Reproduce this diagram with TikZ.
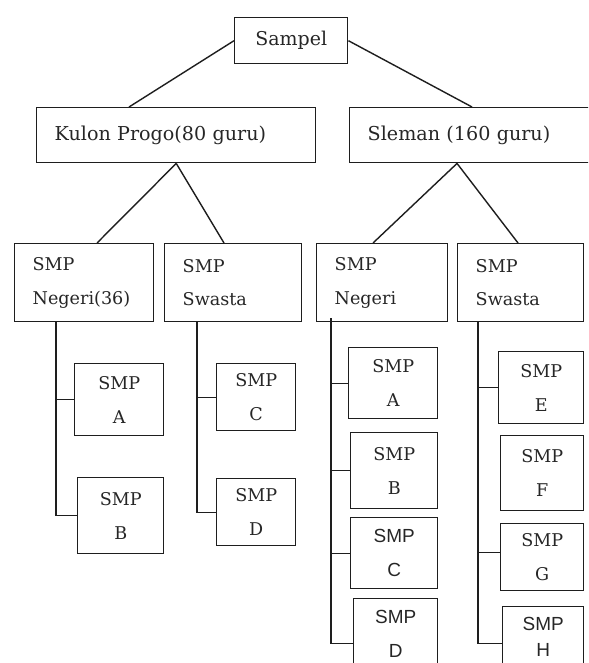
\documentclass[tikz,border=0pt]{standalone}
\usepackage{fontspec}
\setmainfont{DejaVu Serif}
\newfontfamily\sansfont{Liberation Sans}
\definecolor{sampleLine}{HTML}{1E1E1E}
\definecolor{sampleText}{HTML}{262626}
\usepackage{tikz}
\usetikzlibrary{positioning}
\tikzset{
    top node/.style={rectangle, draw=sampleLine, line width=1pt, text=sampleText, minimum width=2.825cm, minimum height=1.15cm, align=center, anchor=north west, font=\fontsize{13.5}{24}\selectfont},
    region node/.style={rectangle, draw=sampleLine, line width=1pt, text=sampleText, minimum height=1.375cm, inner xsep=0.45cm, align=left, anchor=north west, font=\fontsize{13.6}{24}\selectfont},
    school node/.style={rectangle, draw=sampleLine, line width=1pt, text=sampleText, minimum height=1.95cm, inner xsep=0.45cm, align=left, anchor=north west, font=\fontsize{12.5}{24}\selectfont},
    leaf node/.style={rectangle, draw=sampleLine, line width=1pt, text=sampleText, inner sep=0pt, align=center, anchor=north west, font=\fontsize{12.5}{24}\selectfont},
    sans leaf/.style={leaf node, font=\sansfont\fontsize{13.5}{24}\selectfont},
    link style/.style={draw=sampleLine, line width=1pt},
}

\begin{document}
\begin{tikzpicture}[x=0.025cm, y=-0.025cm]
    \useasboundingbox (0,0) rectangle (588,663);
    \clip (0,0) rectangle (588,663);
    % top levels
    \node[top node] (sampel) at (234,17) {Sampel};
    \node[region node, text width=6.075cm] (kulon) at (36,107) {Kulon Progo(80 guru)};
    \node[region node, text width=5.375cm] (sleman) at (349,107) {Sleman (160 guru)};
    \node[school node, text width=2.575cm] (kpneg) at (14,243) {SMP\\Negeri(36)};
    \node[school node, text width=2.525cm] (kpsw) at (164,243) {SMP\\Swasta};
    \node[school node, text width=2.375cm] (slneg) at (316,243) {SMP\\Negeri};
    \node[school node, text width=2.25cm] (slsw) at (457,243) {SMP\\Swasta};
    % schools
    \node[leaf node, minimum width=2.225cm, minimum height=1.8cm] (kpa) at (74,363) {SMP\\A};
    \node[leaf node, minimum width=2.15cm, minimum height=1.9cm] (kpb) at (77,477) {SMP\\B};
    \node[leaf node, minimum width=1.975cm, minimum height=1.675cm] (kpc) at (216,363) {SMP\\C};
    \node[leaf node, minimum width=1.975cm, minimum height=1.675cm] (kpd) at (216,478) {SMP\\D};
    \node[leaf node, minimum width=2.225cm, minimum height=1.775cm] (sla) at (348,347) {SMP\\A};
    \node[leaf node, minimum width=2.175cm, minimum height=1.9cm] (slb) at (350,432) {SMP\\B};
    \node[sans leaf, minimum width=2.175cm, minimum height=1.775cm] (slc) at (350,517) {SMP\\C};
    \node[sans leaf, minimum width=2.1cm, minimum height=1.75cm] (sld) at (353,598) {SMP\\D};
    \node[leaf node, minimum width=2.125cm, minimum height=1.8cm] (sle) at (498,351) {SMP\\E};
    \node[leaf node, minimum width=2.075cm, minimum height=1.875cm] (slf) at (500,435) {SMP\\F};
    \node[leaf node, minimum width=2.075cm, minimum height=1.675cm] (slg) at (500,523) {SMP\\G};
    \node[sans leaf, font=\sansfont\fontsize{13.5}{18}\selectfont, minimum width=2.025cm, minimum height=1.5cm] (slh) at (502,606) {SMP\\H};
    % tree links
    \draw[link style] (sampel.west) -- ([xshift=2.325cm]kulon.north west);
    \draw[link style] (sampel.east) -- ([xshift=3.075cm]sleman.north west);
    \draw[link style] (kulon.south) -- ([xshift=2.075cm]kpneg.north west);
    \draw[link style] (kulon.south) -- ([xshift=1.5cm]kpsw.north west);
    \draw[link style] ([xshift=2.7cm]sleman.south west) -- ([xshift=1.425cm]slneg.north west);
    \draw[link style] ([xshift=2.7cm]sleman.south west) -- ([xshift=1.525cm]slsw.north west);
    % trunks
    \coordinate (kpnegtrunk) at (56,321);
    \coordinate (kpswtrunk) at (197,321);
    \coordinate (slnegtrunk) at (331,318);
    \coordinate (slswtrunk) at (478,322);
    \draw[link style] (kpnegtrunk) |- (kpa.west);
    \draw[link style] (kpnegtrunk) |- (kpb.west);
    \draw[link style] (kpswtrunk) |- (kpc.west);
    \draw[link style] (kpswtrunk) |- (kpd.west);
    \draw[link style] (slnegtrunk) |- (sla.west);
    \draw[link style] (slnegtrunk) |- (slb.west);
    \draw[link style] (slnegtrunk) |- (slc.west);
    \draw[link style] (slnegtrunk) |- ([yshift=-0.25cm]sld.west);
    \draw[link style] (slswtrunk) |- (sle.west);
    \draw[link style] (slswtrunk) |- ([yshift=0.12cm]slg.west);
    \draw[link style] (slswtrunk) |- ([yshift=-0.175cm]slh.west);
\end{tikzpicture}
\end{document}
